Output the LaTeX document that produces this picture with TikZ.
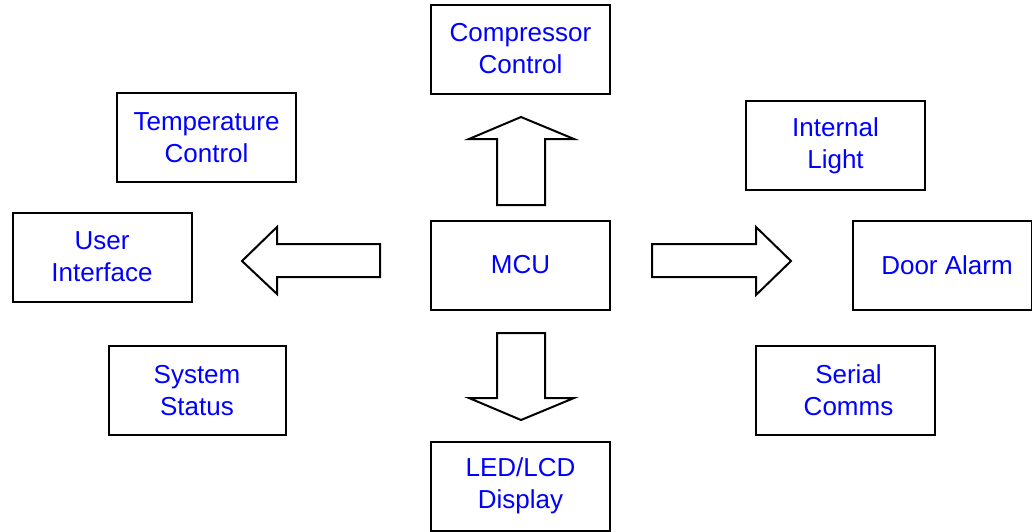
\documentclass[tikz,border=0pt]{standalone}
\usepackage{fontspec}
\setmainfont{Liberation Sans}
\begin{document}
\begin{tikzpicture}[x=1pt,y=-1pt,
  block/.style={draw, line width=2pt, minimum width=179pt, minimum height=89pt,
    inner sep=0pt, align=center, text=blue, font=\fontsize{26}{32}\selectfont},
  bigarrow/.style={draw, line width=2pt, line join=miter}]

  \useasboundingbox (0,0) rectangle (1032,531);

  % blocks
  \node[block] (comp)   at (520.5,49)  {Compressor\\Control};
  \node[block] (temp)   at (206.5,137.5) {Temperature\\Control};
  \node[block] (light)  at (835.5,145.5) {Internal\\Light};
  \node[block] (ui)     at (102,257)   {User\\Interface};
  \node[block] (mcu)    at (520.5,265) {MCU};
  \node[block] (door)   at (942,265)   {\hspace*{10pt}Door Alarm};
  \node[block, minimum width=177pt] (status) at (197,390.5) {System\\Status};
  \node[block] (serial) at (845.5,390.5) {\hspace*{6pt}Serial\\\hspace*{6pt}Comms};
  \node[block] (led)    at (520.5,486) {LED/LCD\\Display};

  % block arrows
  \draw[bigarrow] (497,205) -- (497,139) -- (469,139) -- (521,117)
    -- (574,139) -- (545,139) -- (545,205) -- cycle;
  \draw[bigarrow] (380,244) -- (277,244) -- (277,227) -- (242,261)
    -- (277,294) -- (277,277) -- (380,277) -- cycle;
  \draw[bigarrow] (652,244) -- (756,244) -- (756,227) -- (791,261)
    -- (756,295) -- (756,277) -- (652,277) -- cycle;
  \draw[bigarrow] (497,333) -- (497,398) -- (469,398) -- (521,420)
    -- (574,398) -- (545,398) -- (545,333) -- cycle;

\end{tikzpicture}
\end{document}
